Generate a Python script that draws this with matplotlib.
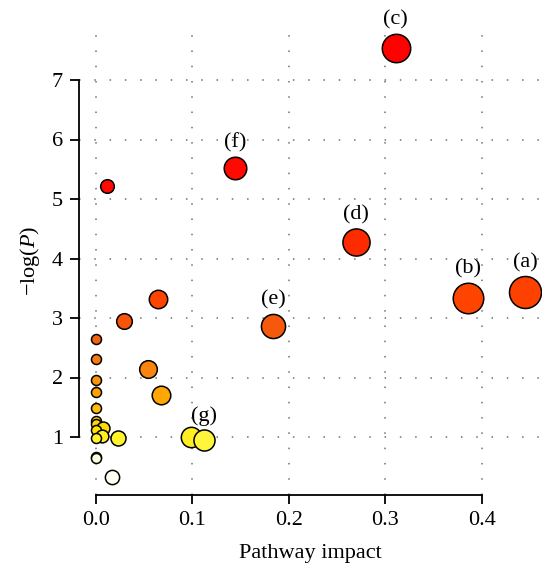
import numpy as np
import matplotlib
matplotlib.use("Agg")
import matplotlib.pyplot as plt
from matplotlib.colors import LinearSegmentedColormap

# ---- data ----
impact = [0.4449, 0.386, 0.311, 0.2694, 0.1837, 0.1443, 0.1122, 0.0984,
          0.012, 0.0649, 0.0293, 0.0, 0.0, 0.0539, 0.0, 0.0, 0.0677, 0.0,
          0.0, 0.0, 0.0079, 0.0, 0.0068, 0.0231, 0.0, 0.0, 0.0, 0.0166]
neglogp = [3.43, 3.33, 7.53, 4.27, 2.87, 5.52, 0.945, 1.005,
           5.22, 3.32, 2.955, 2.65, 2.31, 2.14, 1.95, 1.75, 1.71, 1.48,
           1.27, 1.22, 1.15, 1.11, 1.02, 0.99, 0.98, 0.67, 0.65, 0.32]
labels = ["(a)", "(b)", "(c)", "(d)", "(e)", "(f)", "(g)", "",
          "", "", "", "", "", "", "", "", "", "",
          "", "", "", "", "", "", "", "", "", ""]
xticks = [0.0, 0.1, 0.2, 0.3, 0.4]
yticks = [1, 2, 3, 4, 5, 6, 7]
xlabel = "Pathway impact"
ylabel = r"$-\mathrm{log}(P)$"

# ---- style ----
plt.rcParams['font.family'] = ['Liberation Serif', 'DejaVu Serif']
plt.rcParams['mathtext.fontset'] = 'custom'
plt.rcParams['mathtext.rm'] = 'Liberation Serif'
plt.rcParams['mathtext.it'] = 'Liberation Serif:italic'
FS = 16

nodes = [(0.3, '#FFFFF2'), (0.7, '#FFFFD8'), (0.95, '#FFF530'), (1.1, '#FFE000'),
         (1.3, '#FFCC10'), (1.7, '#FFA500'), (2.2, '#F88010'), (2.7, '#F06010'),
         (3.3, '#FF4500'), (4.3, '#FF2A00'), (5.2, '#FF0A00'), (8.0, '#FF0000')]
vmin, vmax = nodes[0][0], nodes[-1][0]
cmap = LinearSegmentedColormap.from_list(
    'heat', [((v - vmin) / (vmax - vmin), c) for v, c in nodes])

W, H, DPI = 555, 580, 100
fig = plt.figure(figsize=(W / DPI, H / DPI), dpi=DPI)
L, R, B, T = 79, 541, 495, 27
ax = fig.add_axes([L / W, 1 - B / H, (R - L) / W, (B - T) / H])

x0px, xs = 95.7, 965.0
y0px, ys = 496.5, 59.5
ax.set_xlim((L - x0px) / xs, (R - x0px) / xs)
ax.set_ylim((y0px - B) / ys, (y0px - T) / ys)

px2pt = 72.0 / DPI
imp = np.array(impact)
nlp = np.array(neglogp)
r_px = 5 + 16.5 * np.sqrt(imp)
sizes = (2 * r_px * px2pt) ** 2

order = np.argsort(-nlp, kind='stable')
for i in order:
    ax.scatter(imp[i], nlp[i], s=sizes[i], c=[nlp[i]], cmap=cmap, vmin=vmin, vmax=vmax,
               edgecolors='black', linewidths=1.1, zorder=3, clip_on=True)

for i, lab in enumerate(labels):
    if lab:
        ax.annotate(lab, (imp[i], nlp[i]), xytext=(0, (r_px[i] + 14) * px2pt),
                    textcoords='offset points', ha='center', va='center',
                    fontsize=FS, zorder=4, annotation_clip=False)

# grid
for xv in xticks:
    ax.axvline(xv, color='#707070', linestyle=(0, (1, 9)), linewidth=1.1, zorder=1)
for yv in yticks:
    ax.axhline(yv, color='#707070', linestyle=(0, (1, 9)), linewidth=1.1, zorder=1)

for s in ['top', 'right']:
    ax.spines[s].set_visible(False)
ax.spines['left'].set_bounds(yticks[0], yticks[-1])
ax.spines['bottom'].set_bounds(xticks[0], xticks[-1])
ax.spines['left'].set_linewidth(1.3)
ax.spines['bottom'].set_linewidth(1.3)
ax.set_xticks(xticks)
ax.set_xticklabels([f"{v:.1f}" for v in xticks])
ax.set_yticks(yticks)
ax.set_yticklabels([str(v) for v in yticks])
ax.tick_params(axis='both', direction='out', length=6.5, width=1.3, labelsize=FS, pad=5)
ax.set_xlabel(xlabel, fontsize=FS, labelpad=10)
ax.set_ylabel(ylabel, fontsize=FS, labelpad=7)
ax.patch.set_alpha(0)

fig.savefig('out.png', dpi=DPI)
